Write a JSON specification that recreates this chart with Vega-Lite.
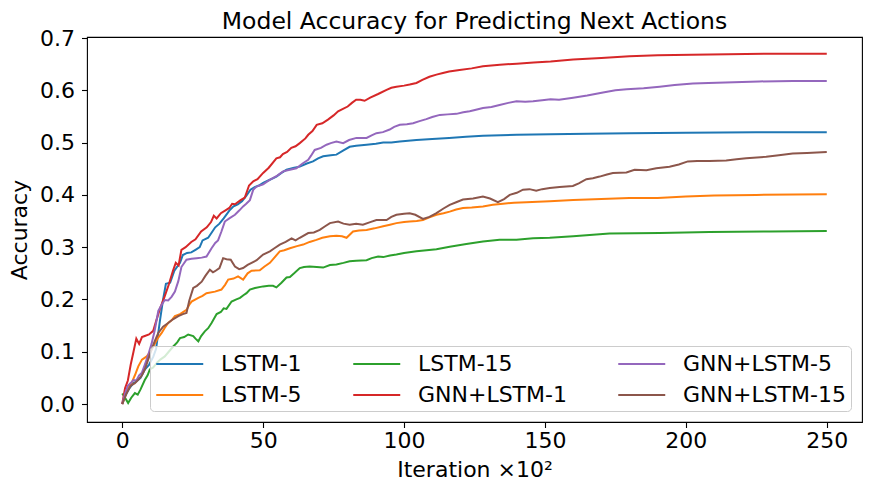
{
  "$schema": "https://vega.github.io/schema/vega-lite/v6.json",
  "autosize": {"type": "none"},
  "padding": {"left": 87, "top": 37, "right": 9, "bottom": 76},
  "width": 775,
  "height": 385,
  "background": "white",
  "title": {
    "text": "Model Accuracy for Predicting Next Actions",
    "font": "DejaVu Sans",
    "fontSize": 23.5,
    "fontWeight": "normal",
    "color": "black",
    "anchor": "middle",
    "offset": 6,
    "dy": 12
  },
  "config": {
    "view": {"stroke": "black", "strokeWidth": 1.1},
    "axis": {
      "domain": false,
      "grid": false,
      "labelFont": "DejaVu Sans",
      "labelFontSize": 22,
      "labelColor": "black",
      "tickColor": "black",
      "tickSize": 5.5,
      "tickWidth": 1.1,
      "titleFont": "DejaVu Sans",
      "titleFontSize": 22,
      "titleFontWeight": "normal",
      "titleColor": "black"
    },
    "legend": {
      "labelFont": "DejaVu Sans",
      "labelFontSize": 22,
      "labelColor": "black",
      "labelLimit": 400
    }
  },
  "data": {
    "values": [
      {"model": "LSTM-1", "iter": 0, "acc": 0.0},
      {"model": "LSTM-1", "iter": 1, "acc": 0.015},
      {"model": "LSTM-1", "iter": 2.5, "acc": 0.03},
      {"model": "LSTM-1", "iter": 4, "acc": 0.04},
      {"model": "LSTM-1", "iter": 5, "acc": 0.043},
      {"model": "LSTM-1", "iter": 6.5, "acc": 0.05},
      {"model": "LSTM-1", "iter": 8, "acc": 0.066},
      {"model": "LSTM-1", "iter": 9.5, "acc": 0.075},
      {"model": "LSTM-1", "iter": 11, "acc": 0.09},
      {"model": "LSTM-1", "iter": 12, "acc": 0.105},
      {"model": "LSTM-1", "iter": 13.4, "acc": 0.16},
      {"model": "LSTM-1", "iter": 14.5, "acc": 0.2},
      {"model": "LSTM-1", "iter": 15.5, "acc": 0.23},
      {"model": "LSTM-1", "iter": 17, "acc": 0.232},
      {"model": "LSTM-1", "iter": 18.5, "acc": 0.255},
      {"model": "LSTM-1", "iter": 20.5, "acc": 0.27},
      {"model": "LSTM-1", "iter": 21.5, "acc": 0.285},
      {"model": "LSTM-1", "iter": 23, "acc": 0.289},
      {"model": "LSTM-1", "iter": 24.5, "acc": 0.29},
      {"model": "LSTM-1", "iter": 26, "acc": 0.295},
      {"model": "LSTM-1", "iter": 27.5, "acc": 0.3},
      {"model": "LSTM-1", "iter": 28.5, "acc": 0.313},
      {"model": "LSTM-1", "iter": 30.5, "acc": 0.318},
      {"model": "LSTM-1", "iter": 32, "acc": 0.33},
      {"model": "LSTM-1", "iter": 33, "acc": 0.338},
      {"model": "LSTM-1", "iter": 34.5, "acc": 0.345},
      {"model": "LSTM-1", "iter": 36, "acc": 0.355},
      {"model": "LSTM-1", "iter": 38, "acc": 0.37},
      {"model": "LSTM-1", "iter": 39.5, "acc": 0.378},
      {"model": "LSTM-1", "iter": 41, "acc": 0.382},
      {"model": "LSTM-1", "iter": 42.5, "acc": 0.388},
      {"model": "LSTM-1", "iter": 44, "acc": 0.398},
      {"model": "LSTM-1", "iter": 45.5, "acc": 0.41},
      {"model": "LSTM-1", "iter": 47, "acc": 0.415},
      {"model": "LSTM-1", "iter": 48.5, "acc": 0.418},
      {"model": "LSTM-1", "iter": 50, "acc": 0.423},
      {"model": "LSTM-1", "iter": 52, "acc": 0.428},
      {"model": "LSTM-1", "iter": 54.7, "acc": 0.435},
      {"model": "LSTM-1", "iter": 56.5, "acc": 0.442},
      {"model": "LSTM-1", "iter": 58.3, "acc": 0.448},
      {"model": "LSTM-1", "iter": 61, "acc": 0.452},
      {"model": "LSTM-1", "iter": 63, "acc": 0.454},
      {"model": "LSTM-1", "iter": 65.5, "acc": 0.46},
      {"model": "LSTM-1", "iter": 67.7, "acc": 0.464},
      {"model": "LSTM-1", "iter": 69.5, "acc": 0.47},
      {"model": "LSTM-1", "iter": 71.3, "acc": 0.474},
      {"model": "LSTM-1", "iter": 74, "acc": 0.476},
      {"model": "LSTM-1", "iter": 76, "acc": 0.477},
      {"model": "LSTM-1", "iter": 78.5, "acc": 0.485},
      {"model": "LSTM-1", "iter": 80.7, "acc": 0.492},
      {"model": "LSTM-1", "iter": 83, "acc": 0.494},
      {"model": "LSTM-1", "iter": 86.7, "acc": 0.496},
      {"model": "LSTM-1", "iter": 90, "acc": 0.498},
      {"model": "LSTM-1", "iter": 92.6, "acc": 0.5},
      {"model": "LSTM-1", "iter": 95.5, "acc": 0.5},
      {"model": "LSTM-1", "iter": 98.5, "acc": 0.502},
      {"model": "LSTM-1", "iter": 104.4, "acc": 0.505},
      {"model": "LSTM-1", "iter": 110, "acc": 0.507},
      {"model": "LSTM-1", "iter": 116, "acc": 0.509},
      {"model": "LSTM-1", "iter": 122, "acc": 0.511},
      {"model": "LSTM-1", "iter": 128, "acc": 0.513},
      {"model": "LSTM-1", "iter": 140, "acc": 0.515},
      {"model": "LSTM-1", "iter": 152, "acc": 0.516},
      {"model": "LSTM-1", "iter": 165, "acc": 0.517},
      {"model": "LSTM-1", "iter": 180, "acc": 0.518},
      {"model": "LSTM-1", "iter": 200, "acc": 0.519},
      {"model": "LSTM-1", "iter": 225, "acc": 0.52},
      {"model": "LSTM-1", "iter": 250, "acc": 0.52},

      {"model": "LSTM-5", "iter": 0, "acc": 0.0},
      {"model": "LSTM-5", "iter": 1, "acc": 0.015},
      {"model": "LSTM-5", "iter": 2, "acc": 0.03},
      {"model": "LSTM-5", "iter": 3.3, "acc": 0.04},
      {"model": "LSTM-5", "iter": 4.5, "acc": 0.055},
      {"model": "LSTM-5", "iter": 5.7, "acc": 0.072},
      {"model": "LSTM-5", "iter": 7, "acc": 0.085},
      {"model": "LSTM-5", "iter": 8.7, "acc": 0.091},
      {"model": "LSTM-5", "iter": 10, "acc": 0.1},
      {"model": "LSTM-5", "iter": 11, "acc": 0.11},
      {"model": "LSTM-5", "iter": 12.5, "acc": 0.125},
      {"model": "LSTM-5", "iter": 14, "acc": 0.136},
      {"model": "LSTM-5", "iter": 15, "acc": 0.145},
      {"model": "LSTM-5", "iter": 16.3, "acc": 0.155},
      {"model": "LSTM-5", "iter": 17.5, "acc": 0.16},
      {"model": "LSTM-5", "iter": 18.7, "acc": 0.168},
      {"model": "LSTM-5", "iter": 20.5, "acc": 0.172},
      {"model": "LSTM-5", "iter": 22.8, "acc": 0.18},
      {"model": "LSTM-5", "iter": 23.8, "acc": 0.19},
      {"model": "LSTM-5", "iter": 24.6, "acc": 0.196},
      {"model": "LSTM-5", "iter": 27, "acc": 0.203},
      {"model": "LSTM-5", "iter": 28.5, "acc": 0.207},
      {"model": "LSTM-5", "iter": 29.9, "acc": 0.212},
      {"model": "LSTM-5", "iter": 32.9, "acc": 0.215},
      {"model": "LSTM-5", "iter": 35.2, "acc": 0.219},
      {"model": "LSTM-5", "iter": 36.5, "acc": 0.228},
      {"model": "LSTM-5", "iter": 37.6, "acc": 0.238},
      {"model": "LSTM-5", "iter": 39.5, "acc": 0.24},
      {"model": "LSTM-5", "iter": 41.1, "acc": 0.244},
      {"model": "LSTM-5", "iter": 42.9, "acc": 0.238},
      {"model": "LSTM-5", "iter": 44.5, "acc": 0.25},
      {"model": "LSTM-5", "iter": 45.9, "acc": 0.255},
      {"model": "LSTM-5", "iter": 48.8, "acc": 0.256},
      {"model": "LSTM-5", "iter": 50.5, "acc": 0.263},
      {"model": "LSTM-5", "iter": 52.4, "acc": 0.27},
      {"model": "LSTM-5", "iter": 54, "acc": 0.28},
      {"model": "LSTM-5", "iter": 55.9, "acc": 0.292},
      {"model": "LSTM-5", "iter": 57.5, "acc": 0.294},
      {"model": "LSTM-5", "iter": 59.5, "acc": 0.298},
      {"model": "LSTM-5", "iter": 62, "acc": 0.302},
      {"model": "LSTM-5", "iter": 64.2, "acc": 0.305},
      {"model": "LSTM-5", "iter": 66.5, "acc": 0.31},
      {"model": "LSTM-5", "iter": 68.9, "acc": 0.314},
      {"model": "LSTM-5", "iter": 71, "acc": 0.318},
      {"model": "LSTM-5", "iter": 73.7, "acc": 0.321},
      {"model": "LSTM-5", "iter": 76, "acc": 0.322},
      {"model": "LSTM-5", "iter": 78, "acc": 0.321},
      {"model": "LSTM-5", "iter": 79.6, "acc": 0.318},
      {"model": "LSTM-5", "iter": 81.9, "acc": 0.33},
      {"model": "LSTM-5", "iter": 84, "acc": 0.332},
      {"model": "LSTM-5", "iter": 86.7, "acc": 0.333},
      {"model": "LSTM-5", "iter": 89.5, "acc": 0.336},
      {"model": "LSTM-5", "iter": 92.6, "acc": 0.34},
      {"model": "LSTM-5", "iter": 95, "acc": 0.343},
      {"model": "LSTM-5", "iter": 97.3, "acc": 0.346},
      {"model": "LSTM-5", "iter": 100, "acc": 0.348},
      {"model": "LSTM-5", "iter": 102, "acc": 0.349},
      {"model": "LSTM-5", "iter": 104.5, "acc": 0.35},
      {"model": "LSTM-5", "iter": 106.7, "acc": 0.352},
      {"model": "LSTM-5", "iter": 109, "acc": 0.357},
      {"model": "LSTM-5", "iter": 111.5, "acc": 0.362},
      {"model": "LSTM-5", "iter": 114, "acc": 0.365},
      {"model": "LSTM-5", "iter": 116.2, "acc": 0.368},
      {"model": "LSTM-5", "iter": 118.5, "acc": 0.372},
      {"model": "LSTM-5", "iter": 120.9, "acc": 0.375},
      {"model": "LSTM-5", "iter": 124, "acc": 0.376},
      {"model": "LSTM-5", "iter": 128, "acc": 0.378},
      {"model": "LSTM-5", "iter": 131.5, "acc": 0.381},
      {"model": "LSTM-5", "iter": 135.1, "acc": 0.383},
      {"model": "LSTM-5", "iter": 139, "acc": 0.385},
      {"model": "LSTM-5", "iter": 143.4, "acc": 0.386},
      {"model": "LSTM-5", "iter": 147.5, "acc": 0.387},
      {"model": "LSTM-5", "iter": 151.7, "acc": 0.388},
      {"model": "LSTM-5", "iter": 160, "acc": 0.39},
      {"model": "LSTM-5", "iter": 170, "acc": 0.392},
      {"model": "LSTM-5", "iter": 180, "acc": 0.394},
      {"model": "LSTM-5", "iter": 190, "acc": 0.394},
      {"model": "LSTM-5", "iter": 200, "acc": 0.397},
      {"model": "LSTM-5", "iter": 210, "acc": 0.399},
      {"model": "LSTM-5", "iter": 225, "acc": 0.4},
      {"model": "LSTM-5", "iter": 250, "acc": 0.401},

      {"model": "LSTM-15", "iter": 0, "acc": 0.02},
      {"model": "LSTM-15", "iter": 1, "acc": 0.012},
      {"model": "LSTM-15", "iter": 2.1, "acc": 0.002},
      {"model": "LSTM-15", "iter": 3.2, "acc": 0.012},
      {"model": "LSTM-15", "iter": 4.5, "acc": 0.021},
      {"model": "LSTM-15", "iter": 5.5, "acc": 0.018},
      {"model": "LSTM-15", "iter": 6.5, "acc": 0.028},
      {"model": "LSTM-15", "iter": 8, "acc": 0.046},
      {"model": "LSTM-15", "iter": 9, "acc": 0.055},
      {"model": "LSTM-15", "iter": 9.8, "acc": 0.066},
      {"model": "LSTM-15", "iter": 11, "acc": 0.07},
      {"model": "LSTM-15", "iter": 12.5, "acc": 0.08},
      {"model": "LSTM-15", "iter": 13.5, "acc": 0.085},
      {"model": "LSTM-15", "iter": 15.1, "acc": 0.091},
      {"model": "LSTM-15", "iter": 16.5, "acc": 0.1},
      {"model": "LSTM-15", "iter": 18.1, "acc": 0.11},
      {"model": "LSTM-15", "iter": 19.5, "acc": 0.118},
      {"model": "LSTM-15", "iter": 20.5, "acc": 0.126},
      {"model": "LSTM-15", "iter": 22, "acc": 0.128},
      {"model": "LSTM-15", "iter": 23.4, "acc": 0.133},
      {"model": "LSTM-15", "iter": 25.2, "acc": 0.13},
      {"model": "LSTM-15", "iter": 26, "acc": 0.125},
      {"model": "LSTM-15", "iter": 27, "acc": 0.12},
      {"model": "LSTM-15", "iter": 28, "acc": 0.13},
      {"model": "LSTM-15", "iter": 29.3, "acc": 0.139},
      {"model": "LSTM-15", "iter": 30.5, "acc": 0.145},
      {"model": "LSTM-15", "iter": 31.7, "acc": 0.155},
      {"model": "LSTM-15", "iter": 33.5, "acc": 0.172},
      {"model": "LSTM-15", "iter": 35, "acc": 0.176},
      {"model": "LSTM-15", "iter": 36, "acc": 0.183},
      {"model": "LSTM-15", "iter": 37, "acc": 0.182},
      {"model": "LSTM-15", "iter": 38.8, "acc": 0.196},
      {"model": "LSTM-15", "iter": 40.5, "acc": 0.2},
      {"model": "LSTM-15", "iter": 41.8, "acc": 0.203},
      {"model": "LSTM-15", "iter": 43, "acc": 0.208},
      {"model": "LSTM-15", "iter": 44.1, "acc": 0.212},
      {"model": "LSTM-15", "iter": 45.3, "acc": 0.219},
      {"model": "LSTM-15", "iter": 47.1, "acc": 0.222},
      {"model": "LSTM-15", "iter": 50, "acc": 0.225},
      {"model": "LSTM-15", "iter": 52, "acc": 0.226},
      {"model": "LSTM-15", "iter": 53.5, "acc": 0.226},
      {"model": "LSTM-15", "iter": 54.7, "acc": 0.223},
      {"model": "LSTM-15", "iter": 56.5, "acc": 0.232},
      {"model": "LSTM-15", "iter": 58.3, "acc": 0.242},
      {"model": "LSTM-15", "iter": 59.5, "acc": 0.243},
      {"model": "LSTM-15", "iter": 61, "acc": 0.25},
      {"model": "LSTM-15", "iter": 63, "acc": 0.26},
      {"model": "LSTM-15", "iter": 64.5, "acc": 0.262},
      {"model": "LSTM-15", "iter": 66.5, "acc": 0.263},
      {"model": "LSTM-15", "iter": 69, "acc": 0.262},
      {"model": "LSTM-15", "iter": 71.3, "acc": 0.261},
      {"model": "LSTM-15", "iter": 73.7, "acc": 0.266},
      {"model": "LSTM-15", "iter": 76, "acc": 0.267},
      {"model": "LSTM-15", "iter": 78.5, "acc": 0.27},
      {"model": "LSTM-15", "iter": 80.7, "acc": 0.273},
      {"model": "LSTM-15", "iter": 83, "acc": 0.274},
      {"model": "LSTM-15", "iter": 86.7, "acc": 0.275},
      {"model": "LSTM-15", "iter": 88.5, "acc": 0.279},
      {"model": "LSTM-15", "iter": 90.8, "acc": 0.282},
      {"model": "LSTM-15", "iter": 92.6, "acc": 0.281},
      {"model": "LSTM-15", "iter": 95, "acc": 0.284},
      {"model": "LSTM-15", "iter": 97.3, "acc": 0.286},
      {"model": "LSTM-15", "iter": 100, "acc": 0.289},
      {"model": "LSTM-15", "iter": 104.4, "acc": 0.292},
      {"model": "LSTM-15", "iter": 108, "acc": 0.294},
      {"model": "LSTM-15", "iter": 111.5, "acc": 0.296},
      {"model": "LSTM-15", "iter": 116.2, "acc": 0.301},
      {"model": "LSTM-15", "iter": 122.1, "acc": 0.306},
      {"model": "LSTM-15", "iter": 128, "acc": 0.311},
      {"model": "LSTM-15", "iter": 133.9, "acc": 0.314},
      {"model": "LSTM-15", "iter": 139.9, "acc": 0.314},
      {"model": "LSTM-15", "iter": 145.8, "acc": 0.317},
      {"model": "LSTM-15", "iter": 151.7, "acc": 0.318},
      {"model": "LSTM-15", "iter": 160, "acc": 0.321},
      {"model": "LSTM-15", "iter": 172.9, "acc": 0.326},
      {"model": "LSTM-15", "iter": 190.7, "acc": 0.327},
      {"model": "LSTM-15", "iter": 208.4, "acc": 0.329},
      {"model": "LSTM-15", "iter": 230, "acc": 0.33},
      {"model": "LSTM-15", "iter": 250, "acc": 0.331},

      {"model": "GNN+LSTM-1", "iter": 0, "acc": 0.0},
      {"model": "GNN+LSTM-1", "iter": 1, "acc": 0.03},
      {"model": "GNN+LSTM-1", "iter": 2, "acc": 0.045},
      {"model": "GNN+LSTM-1", "iter": 3, "acc": 0.075},
      {"model": "GNN+LSTM-1", "iter": 4, "acc": 0.1},
      {"model": "GNN+LSTM-1", "iter": 5, "acc": 0.125},
      {"model": "GNN+LSTM-1", "iter": 6, "acc": 0.115},
      {"model": "GNN+LSTM-1", "iter": 7, "acc": 0.128},
      {"model": "GNN+LSTM-1", "iter": 8, "acc": 0.13},
      {"model": "GNN+LSTM-1", "iter": 9.5, "acc": 0.133},
      {"model": "GNN+LSTM-1", "iter": 11, "acc": 0.14},
      {"model": "GNN+LSTM-1", "iter": 12, "acc": 0.158},
      {"model": "GNN+LSTM-1", "iter": 13.5, "acc": 0.184},
      {"model": "GNN+LSTM-1", "iter": 15, "acc": 0.205},
      {"model": "GNN+LSTM-1", "iter": 16.5, "acc": 0.228},
      {"model": "GNN+LSTM-1", "iter": 18, "acc": 0.255},
      {"model": "GNN+LSTM-1", "iter": 19, "acc": 0.27},
      {"model": "GNN+LSTM-1", "iter": 20, "acc": 0.265},
      {"model": "GNN+LSTM-1", "iter": 21, "acc": 0.295},
      {"model": "GNN+LSTM-1", "iter": 22.5, "acc": 0.3},
      {"model": "GNN+LSTM-1", "iter": 24.5, "acc": 0.31},
      {"model": "GNN+LSTM-1", "iter": 26, "acc": 0.315},
      {"model": "GNN+LSTM-1", "iter": 28, "acc": 0.33},
      {"model": "GNN+LSTM-1", "iter": 30, "acc": 0.338},
      {"model": "GNN+LSTM-1", "iter": 31.5, "acc": 0.348},
      {"model": "GNN+LSTM-1", "iter": 32.5, "acc": 0.36},
      {"model": "GNN+LSTM-1", "iter": 33.5, "acc": 0.355},
      {"model": "GNN+LSTM-1", "iter": 35, "acc": 0.365},
      {"model": "GNN+LSTM-1", "iter": 36.5, "acc": 0.37},
      {"model": "GNN+LSTM-1", "iter": 38, "acc": 0.375},
      {"model": "GNN+LSTM-1", "iter": 39, "acc": 0.383},
      {"model": "GNN+LSTM-1", "iter": 40, "acc": 0.382},
      {"model": "GNN+LSTM-1", "iter": 42, "acc": 0.39},
      {"model": "GNN+LSTM-1", "iter": 43.5, "acc": 0.395},
      {"model": "GNN+LSTM-1", "iter": 45, "acc": 0.418},
      {"model": "GNN+LSTM-1", "iter": 46.5, "acc": 0.426},
      {"model": "GNN+LSTM-1", "iter": 48, "acc": 0.43},
      {"model": "GNN+LSTM-1", "iter": 50, "acc": 0.442},
      {"model": "GNN+LSTM-1", "iter": 52, "acc": 0.452},
      {"model": "GNN+LSTM-1", "iter": 54.7, "acc": 0.47},
      {"model": "GNN+LSTM-1", "iter": 56, "acc": 0.472},
      {"model": "GNN+LSTM-1", "iter": 57, "acc": 0.478},
      {"model": "GNN+LSTM-1", "iter": 58.5, "acc": 0.482},
      {"model": "GNN+LSTM-1", "iter": 60, "acc": 0.49},
      {"model": "GNN+LSTM-1", "iter": 61.5, "acc": 0.493},
      {"model": "GNN+LSTM-1", "iter": 63, "acc": 0.499},
      {"model": "GNN+LSTM-1", "iter": 65, "acc": 0.508},
      {"model": "GNN+LSTM-1", "iter": 66, "acc": 0.515},
      {"model": "GNN+LSTM-1", "iter": 67.5, "acc": 0.522},
      {"model": "GNN+LSTM-1", "iter": 69, "acc": 0.534},
      {"model": "GNN+LSTM-1", "iter": 71, "acc": 0.537},
      {"model": "GNN+LSTM-1", "iter": 73, "acc": 0.544},
      {"model": "GNN+LSTM-1", "iter": 75, "acc": 0.552},
      {"model": "GNN+LSTM-1", "iter": 76.6, "acc": 0.56},
      {"model": "GNN+LSTM-1", "iter": 78.5, "acc": 0.565},
      {"model": "GNN+LSTM-1", "iter": 80, "acc": 0.569},
      {"model": "GNN+LSTM-1", "iter": 81.5, "acc": 0.576},
      {"model": "GNN+LSTM-1", "iter": 83, "acc": 0.582},
      {"model": "GNN+LSTM-1", "iter": 84.5, "acc": 0.582},
      {"model": "GNN+LSTM-1", "iter": 86, "acc": 0.58},
      {"model": "GNN+LSTM-1", "iter": 88, "acc": 0.586},
      {"model": "GNN+LSTM-1", "iter": 90.8, "acc": 0.593},
      {"model": "GNN+LSTM-1", "iter": 93.8, "acc": 0.601},
      {"model": "GNN+LSTM-1", "iter": 95.5, "acc": 0.605},
      {"model": "GNN+LSTM-1", "iter": 97.3, "acc": 0.607},
      {"model": "GNN+LSTM-1", "iter": 100, "acc": 0.609},
      {"model": "GNN+LSTM-1", "iter": 102, "acc": 0.611},
      {"model": "GNN+LSTM-1", "iter": 104.4, "acc": 0.614},
      {"model": "GNN+LSTM-1", "iter": 106.5, "acc": 0.62},
      {"model": "GNN+LSTM-1", "iter": 109, "acc": 0.626},
      {"model": "GNN+LSTM-1", "iter": 111.5, "acc": 0.63},
      {"model": "GNN+LSTM-1", "iter": 113.8, "acc": 0.633},
      {"model": "GNN+LSTM-1", "iter": 116, "acc": 0.636},
      {"model": "GNN+LSTM-1", "iter": 119.7, "acc": 0.639},
      {"model": "GNN+LSTM-1", "iter": 124, "acc": 0.642},
      {"model": "GNN+LSTM-1", "iter": 128, "acc": 0.646},
      {"model": "GNN+LSTM-1", "iter": 134, "acc": 0.649},
      {"model": "GNN+LSTM-1", "iter": 140, "acc": 0.651},
      {"model": "GNN+LSTM-1", "iter": 146, "acc": 0.653},
      {"model": "GNN+LSTM-1", "iter": 152, "acc": 0.655},
      {"model": "GNN+LSTM-1", "iter": 160, "acc": 0.659},
      {"model": "GNN+LSTM-1", "iter": 170, "acc": 0.662},
      {"model": "GNN+LSTM-1", "iter": 180, "acc": 0.665},
      {"model": "GNN+LSTM-1", "iter": 190, "acc": 0.667},
      {"model": "GNN+LSTM-1", "iter": 202, "acc": 0.668},
      {"model": "GNN+LSTM-1", "iter": 215, "acc": 0.669},
      {"model": "GNN+LSTM-1", "iter": 230, "acc": 0.67},
      {"model": "GNN+LSTM-1", "iter": 250, "acc": 0.67},

      {"model": "GNN+LSTM-5", "iter": 0, "acc": 0.0},
      {"model": "GNN+LSTM-5", "iter": 1, "acc": 0.02},
      {"model": "GNN+LSTM-5", "iter": 2, "acc": 0.035},
      {"model": "GNN+LSTM-5", "iter": 3, "acc": 0.04},
      {"model": "GNN+LSTM-5", "iter": 4, "acc": 0.046},
      {"model": "GNN+LSTM-5", "iter": 5, "acc": 0.045},
      {"model": "GNN+LSTM-5", "iter": 6, "acc": 0.055},
      {"model": "GNN+LSTM-5", "iter": 7, "acc": 0.06},
      {"model": "GNN+LSTM-5", "iter": 8, "acc": 0.075},
      {"model": "GNN+LSTM-5", "iter": 9, "acc": 0.09},
      {"model": "GNN+LSTM-5", "iter": 10.4, "acc": 0.115},
      {"model": "GNN+LSTM-5", "iter": 11.5, "acc": 0.14},
      {"model": "GNN+LSTM-5", "iter": 12.8, "acc": 0.178},
      {"model": "GNN+LSTM-5", "iter": 14, "acc": 0.19},
      {"model": "GNN+LSTM-5", "iter": 15.1, "acc": 0.199},
      {"model": "GNN+LSTM-5", "iter": 16.3, "acc": 0.198},
      {"model": "GNN+LSTM-5", "iter": 17.5, "acc": 0.205},
      {"model": "GNN+LSTM-5", "iter": 18.7, "acc": 0.215},
      {"model": "GNN+LSTM-5", "iter": 19.9, "acc": 0.235},
      {"model": "GNN+LSTM-5", "iter": 21, "acc": 0.262},
      {"model": "GNN+LSTM-5", "iter": 22.8, "acc": 0.276},
      {"model": "GNN+LSTM-5", "iter": 24.6, "acc": 0.278},
      {"model": "GNN+LSTM-5", "iter": 26.4, "acc": 0.279},
      {"model": "GNN+LSTM-5", "iter": 28.2, "acc": 0.28},
      {"model": "GNN+LSTM-5", "iter": 29.9, "acc": 0.282},
      {"model": "GNN+LSTM-5", "iter": 31.7, "acc": 0.298},
      {"model": "GNN+LSTM-5", "iter": 33, "acc": 0.308},
      {"model": "GNN+LSTM-5", "iter": 34, "acc": 0.313},
      {"model": "GNN+LSTM-5", "iter": 35.2, "acc": 0.33},
      {"model": "GNN+LSTM-5", "iter": 36.4, "acc": 0.349},
      {"model": "GNN+LSTM-5", "iter": 38, "acc": 0.355},
      {"model": "GNN+LSTM-5", "iter": 40, "acc": 0.362},
      {"model": "GNN+LSTM-5", "iter": 41.5, "acc": 0.37},
      {"model": "GNN+LSTM-5", "iter": 42.9, "acc": 0.378},
      {"model": "GNN+LSTM-5", "iter": 44, "acc": 0.383},
      {"model": "GNN+LSTM-5", "iter": 45.3, "acc": 0.39},
      {"model": "GNN+LSTM-5", "iter": 46.5, "acc": 0.41},
      {"model": "GNN+LSTM-5", "iter": 47.7, "acc": 0.416},
      {"model": "GNN+LSTM-5", "iter": 50, "acc": 0.42},
      {"model": "GNN+LSTM-5", "iter": 52.4, "acc": 0.429},
      {"model": "GNN+LSTM-5", "iter": 55, "acc": 0.437},
      {"model": "GNN+LSTM-5", "iter": 57.1, "acc": 0.445},
      {"model": "GNN+LSTM-5", "iter": 59.5, "acc": 0.448},
      {"model": "GNN+LSTM-5", "iter": 61.8, "acc": 0.451},
      {"model": "GNN+LSTM-5", "iter": 64, "acc": 0.46},
      {"model": "GNN+LSTM-5", "iter": 66, "acc": 0.467},
      {"model": "GNN+LSTM-5", "iter": 67, "acc": 0.475},
      {"model": "GNN+LSTM-5", "iter": 68.3, "acc": 0.486},
      {"model": "GNN+LSTM-5", "iter": 70.5, "acc": 0.49},
      {"model": "GNN+LSTM-5", "iter": 72.5, "acc": 0.496},
      {"model": "GNN+LSTM-5", "iter": 74, "acc": 0.499},
      {"model": "GNN+LSTM-5", "iter": 76, "acc": 0.502},
      {"model": "GNN+LSTM-5", "iter": 78.4, "acc": 0.499},
      {"model": "GNN+LSTM-5", "iter": 80.5, "acc": 0.505},
      {"model": "GNN+LSTM-5", "iter": 83.1, "acc": 0.509},
      {"model": "GNN+LSTM-5", "iter": 86.7, "acc": 0.509},
      {"model": "GNN+LSTM-5", "iter": 88.5, "acc": 0.514},
      {"model": "GNN+LSTM-5", "iter": 90.2, "acc": 0.518},
      {"model": "GNN+LSTM-5", "iter": 92.5, "acc": 0.52},
      {"model": "GNN+LSTM-5", "iter": 94.9, "acc": 0.525},
      {"model": "GNN+LSTM-5", "iter": 96.5, "acc": 0.53},
      {"model": "GNN+LSTM-5", "iter": 98.5, "acc": 0.534},
      {"model": "GNN+LSTM-5", "iter": 101, "acc": 0.535},
      {"model": "GNN+LSTM-5", "iter": 103.2, "acc": 0.537},
      {"model": "GNN+LSTM-5", "iter": 105.5, "acc": 0.541},
      {"model": "GNN+LSTM-5", "iter": 107.9, "acc": 0.545},
      {"model": "GNN+LSTM-5", "iter": 110, "acc": 0.549},
      {"model": "GNN+LSTM-5", "iter": 112.7, "acc": 0.553},
      {"model": "GNN+LSTM-5", "iter": 115.5, "acc": 0.554},
      {"model": "GNN+LSTM-5", "iter": 118.6, "acc": 0.555},
      {"model": "GNN+LSTM-5", "iter": 121, "acc": 0.558},
      {"model": "GNN+LSTM-5", "iter": 123.3, "acc": 0.56},
      {"model": "GNN+LSTM-5", "iter": 125.5, "acc": 0.563},
      {"model": "GNN+LSTM-5", "iter": 128, "acc": 0.566},
      {"model": "GNN+LSTM-5", "iter": 131, "acc": 0.568},
      {"model": "GNN+LSTM-5", "iter": 133.9, "acc": 0.572},
      {"model": "GNN+LSTM-5", "iter": 137, "acc": 0.576},
      {"model": "GNN+LSTM-5", "iter": 139.9, "acc": 0.579},
      {"model": "GNN+LSTM-5", "iter": 143, "acc": 0.578},
      {"model": "GNN+LSTM-5", "iter": 145.8, "acc": 0.579},
      {"model": "GNN+LSTM-5", "iter": 149, "acc": 0.581},
      {"model": "GNN+LSTM-5", "iter": 152, "acc": 0.583},
      {"model": "GNN+LSTM-5", "iter": 155, "acc": 0.582},
      {"model": "GNN+LSTM-5", "iter": 160, "acc": 0.586},
      {"model": "GNN+LSTM-5", "iter": 165, "acc": 0.59},
      {"model": "GNN+LSTM-5", "iter": 170.6, "acc": 0.596},
      {"model": "GNN+LSTM-5", "iter": 175, "acc": 0.6},
      {"model": "GNN+LSTM-5", "iter": 179, "acc": 0.602},
      {"model": "GNN+LSTM-5", "iter": 185, "acc": 0.604},
      {"model": "GNN+LSTM-5", "iter": 190.7, "acc": 0.607},
      {"model": "GNN+LSTM-5", "iter": 196, "acc": 0.61},
      {"model": "GNN+LSTM-5", "iter": 202.5, "acc": 0.613},
      {"model": "GNN+LSTM-5", "iter": 208, "acc": 0.614},
      {"model": "GNN+LSTM-5", "iter": 214, "acc": 0.615},
      {"model": "GNN+LSTM-5", "iter": 220, "acc": 0.616},
      {"model": "GNN+LSTM-5", "iter": 226, "acc": 0.617},
      {"model": "GNN+LSTM-5", "iter": 238, "acc": 0.618},
      {"model": "GNN+LSTM-5", "iter": 250, "acc": 0.618},

      {"model": "GNN+LSTM-15", "iter": 0, "acc": 0.0},
      {"model": "GNN+LSTM-15", "iter": 1.5, "acc": 0.02},
      {"model": "GNN+LSTM-15", "iter": 3, "acc": 0.035},
      {"model": "GNN+LSTM-15", "iter": 4.5, "acc": 0.04},
      {"model": "GNN+LSTM-15", "iter": 6, "acc": 0.048},
      {"model": "GNN+LSTM-15", "iter": 7, "acc": 0.055},
      {"model": "GNN+LSTM-15", "iter": 8, "acc": 0.066},
      {"model": "GNN+LSTM-15", "iter": 9.2, "acc": 0.085},
      {"model": "GNN+LSTM-15", "iter": 10.4, "acc": 0.104},
      {"model": "GNN+LSTM-15", "iter": 11.5, "acc": 0.12},
      {"model": "GNN+LSTM-15", "iter": 12.8, "acc": 0.136},
      {"model": "GNN+LSTM-15", "iter": 14.5, "acc": 0.148},
      {"model": "GNN+LSTM-15", "iter": 16.3, "acc": 0.155},
      {"model": "GNN+LSTM-15", "iter": 18, "acc": 0.162},
      {"model": "GNN+LSTM-15", "iter": 19.9, "acc": 0.168},
      {"model": "GNN+LSTM-15", "iter": 21.5, "acc": 0.172},
      {"model": "GNN+LSTM-15", "iter": 22.8, "acc": 0.174},
      {"model": "GNN+LSTM-15", "iter": 23.8, "acc": 0.198},
      {"model": "GNN+LSTM-15", "iter": 25.2, "acc": 0.222},
      {"model": "GNN+LSTM-15", "iter": 26.5, "acc": 0.226},
      {"model": "GNN+LSTM-15", "iter": 28.2, "acc": 0.234},
      {"model": "GNN+LSTM-15", "iter": 29.5, "acc": 0.245},
      {"model": "GNN+LSTM-15", "iter": 31.1, "acc": 0.257},
      {"model": "GNN+LSTM-15", "iter": 32.2, "acc": 0.252},
      {"model": "GNN+LSTM-15", "iter": 32.9, "acc": 0.254},
      {"model": "GNN+LSTM-15", "iter": 34.5, "acc": 0.26},
      {"model": "GNN+LSTM-15", "iter": 35.8, "acc": 0.279},
      {"model": "GNN+LSTM-15", "iter": 37, "acc": 0.277},
      {"model": "GNN+LSTM-15", "iter": 38.5, "acc": 0.276},
      {"model": "GNN+LSTM-15", "iter": 40, "acc": 0.263},
      {"model": "GNN+LSTM-15", "iter": 41.5, "acc": 0.258},
      {"model": "GNN+LSTM-15", "iter": 42.9, "acc": 0.26},
      {"model": "GNN+LSTM-15", "iter": 44.5, "acc": 0.266},
      {"model": "GNN+LSTM-15", "iter": 45.9, "acc": 0.27},
      {"model": "GNN+LSTM-15", "iter": 47.7, "acc": 0.275},
      {"model": "GNN+LSTM-15", "iter": 50, "acc": 0.286},
      {"model": "GNN+LSTM-15", "iter": 52.4, "acc": 0.292},
      {"model": "GNN+LSTM-15", "iter": 54, "acc": 0.298},
      {"model": "GNN+LSTM-15", "iter": 55.9, "acc": 0.305},
      {"model": "GNN+LSTM-15", "iter": 58, "acc": 0.31},
      {"model": "GNN+LSTM-15", "iter": 60.1, "acc": 0.317},
      {"model": "GNN+LSTM-15", "iter": 61.5, "acc": 0.313},
      {"model": "GNN+LSTM-15", "iter": 63, "acc": 0.318},
      {"model": "GNN+LSTM-15", "iter": 66, "acc": 0.327},
      {"model": "GNN+LSTM-15", "iter": 68, "acc": 0.328},
      {"model": "GNN+LSTM-15", "iter": 70.1, "acc": 0.333},
      {"model": "GNN+LSTM-15", "iter": 72, "acc": 0.34},
      {"model": "GNN+LSTM-15", "iter": 73.7, "acc": 0.346},
      {"model": "GNN+LSTM-15", "iter": 76.6, "acc": 0.349},
      {"model": "GNN+LSTM-15", "iter": 78.5, "acc": 0.345},
      {"model": "GNN+LSTM-15", "iter": 80.7, "acc": 0.343},
      {"model": "GNN+LSTM-15", "iter": 83, "acc": 0.345},
      {"model": "GNN+LSTM-15", "iter": 85.4, "acc": 0.343},
      {"model": "GNN+LSTM-15", "iter": 88, "acc": 0.348},
      {"model": "GNN+LSTM-15", "iter": 90.2, "acc": 0.352},
      {"model": "GNN+LSTM-15", "iter": 93.8, "acc": 0.352},
      {"model": "GNN+LSTM-15", "iter": 95.5, "acc": 0.358},
      {"model": "GNN+LSTM-15", "iter": 97.3, "acc": 0.362},
      {"model": "GNN+LSTM-15", "iter": 100, "acc": 0.364},
      {"model": "GNN+LSTM-15", "iter": 102, "acc": 0.365},
      {"model": "GNN+LSTM-15", "iter": 104, "acc": 0.362},
      {"model": "GNN+LSTM-15", "iter": 106.7, "acc": 0.354},
      {"model": "GNN+LSTM-15", "iter": 109, "acc": 0.358},
      {"model": "GNN+LSTM-15", "iter": 111.5, "acc": 0.365},
      {"model": "GNN+LSTM-15", "iter": 114, "acc": 0.374},
      {"model": "GNN+LSTM-15", "iter": 116.2, "acc": 0.381},
      {"model": "GNN+LSTM-15", "iter": 118.5, "acc": 0.386},
      {"model": "GNN+LSTM-15", "iter": 120.9, "acc": 0.391},
      {"model": "GNN+LSTM-15", "iter": 124.5, "acc": 0.393},
      {"model": "GNN+LSTM-15", "iter": 128, "acc": 0.397},
      {"model": "GNN+LSTM-15", "iter": 130.5, "acc": 0.393},
      {"model": "GNN+LSTM-15", "iter": 133.3, "acc": 0.386},
      {"model": "GNN+LSTM-15", "iter": 135.5, "acc": 0.392},
      {"model": "GNN+LSTM-15", "iter": 137.5, "acc": 0.4},
      {"model": "GNN+LSTM-15", "iter": 140, "acc": 0.404},
      {"model": "GNN+LSTM-15", "iter": 142.2, "acc": 0.41},
      {"model": "GNN+LSTM-15", "iter": 144.5, "acc": 0.411},
      {"model": "GNN+LSTM-15", "iter": 146.9, "acc": 0.408},
      {"model": "GNN+LSTM-15", "iter": 149, "acc": 0.411},
      {"model": "GNN+LSTM-15", "iter": 151.7, "acc": 0.413},
      {"model": "GNN+LSTM-15", "iter": 155.2, "acc": 0.415},
      {"model": "GNN+LSTM-15", "iter": 159.9, "acc": 0.417},
      {"model": "GNN+LSTM-15", "iter": 162, "acc": 0.422},
      {"model": "GNN+LSTM-15", "iter": 164.7, "acc": 0.43},
      {"model": "GNN+LSTM-15", "iter": 167, "acc": 0.432},
      {"model": "GNN+LSTM-15", "iter": 169.4, "acc": 0.435},
      {"model": "GNN+LSTM-15", "iter": 172, "acc": 0.439},
      {"model": "GNN+LSTM-15", "iter": 174.1, "acc": 0.442},
      {"model": "GNN+LSTM-15", "iter": 178.9, "acc": 0.443},
      {"model": "GNN+LSTM-15", "iter": 181.8, "acc": 0.448},
      {"model": "GNN+LSTM-15", "iter": 186, "acc": 0.447},
      {"model": "GNN+LSTM-15", "iter": 189.5, "acc": 0.451},
      {"model": "GNN+LSTM-15", "iter": 194.2, "acc": 0.454},
      {"model": "GNN+LSTM-15", "iter": 197.5, "acc": 0.458},
      {"model": "GNN+LSTM-15", "iter": 200.7, "acc": 0.464},
      {"model": "GNN+LSTM-15", "iter": 204, "acc": 0.465},
      {"model": "GNN+LSTM-15", "iter": 208.4, "acc": 0.465},
      {"model": "GNN+LSTM-15", "iter": 214.3, "acc": 0.466},
      {"model": "GNN+LSTM-15", "iter": 218, "acc": 0.468},
      {"model": "GNN+LSTM-15", "iter": 221.4, "acc": 0.47},
      {"model": "GNN+LSTM-15", "iter": 228.5, "acc": 0.473},
      {"model": "GNN+LSTM-15", "iter": 233, "acc": 0.476},
      {"model": "GNN+LSTM-15", "iter": 237.9, "acc": 0.479},
      {"model": "GNN+LSTM-15", "iter": 243, "acc": 0.48},
      {"model": "GNN+LSTM-15", "iter": 250, "acc": 0.482}
    ]
  },
  "mark": {"type": "line", "strokeWidth": 2, "clip": true},
  "encoding": {
    "x": {
      "field": "iter",
      "type": "quantitative",
      "title": "Iteration ×10²",
      "scale": {"domain": [-12.5, 262.5], "nice": false, "zero": false},
      "axis": {"values": [0, 50, 100, 150, 200, 250], "labelPadding": 3, "titlePadding": 8, "labelFlush": false}
    },
    "y": {
      "field": "acc",
      "type": "quantitative",
      "title": "Accuracy",
      "scale": {"domain": [-0.0344, 0.702], "nice": false, "zero": false},
      "axis": {"values": [0, 0.1, 0.2, 0.3, 0.4, 0.5, 0.6, 0.7], "format": ".1f", "labelPadding": 7, "titlePadding": 8, "labelFlush": false}
    },
    "color": {
      "field": "model",
      "type": "nominal",
      "title": null,
      "scale": {
        "domain": ["LSTM-1", "LSTM-5", "LSTM-15", "GNN+LSTM-1", "GNN+LSTM-5", "GNN+LSTM-15"],
        "range": ["#1f77b4", "#ff7f0e", "#2ca02c", "#d62728", "#9467bd", "#8c564b"]
      },
      "legend": {
        "orient": "bottom-right",
        "offset": 11,
        "columns": 3,
        "columnPadding": 47,
        "rowPadding": 7,
        "padding": 5,
        "fillColor": "rgba(255,255,255,0.8)",
        "strokeColor": "#cccccc",
        "cornerRadius": 4,
        "symbolType": "M-1,0H3",
        "symbolSize": 552,
        "symbolStrokeWidth": 2,
        "labelOffset": 40,
        "labelBaseline": "middle"
      }
    }
  }
}
